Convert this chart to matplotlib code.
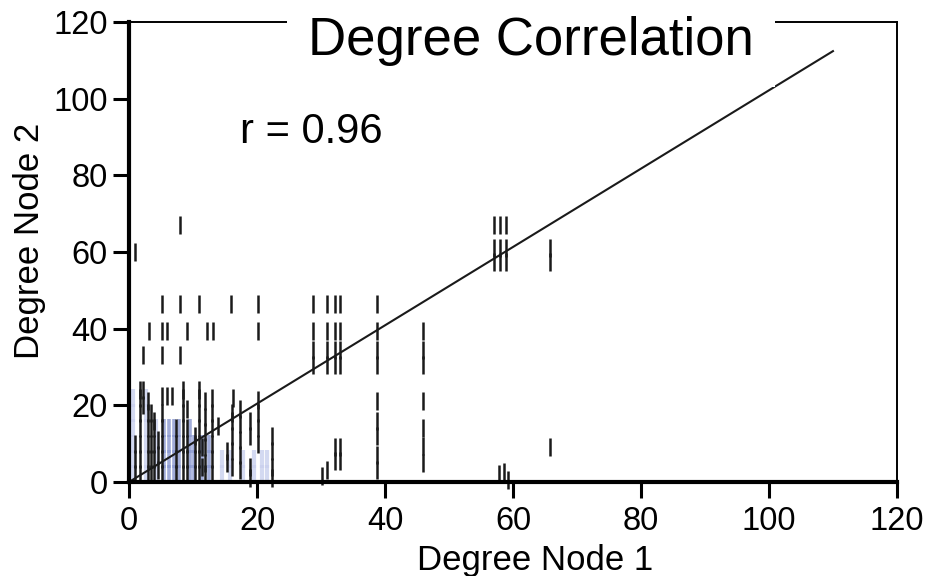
import numpy as np
import matplotlib
matplotlib.use("Agg")
import matplotlib.pyplot as plt

plt.rcParams['font.family'] = ['Liberation Sans', 'DejaVu Sans']

# degree pairs (node 1, node 2)
node1 = [8.0, 1.0,
         5.2, 8.0, 10.9, 15.9, 20.2, 28.8, 30.9, 32.2, 33.0, 38.8,
         3.1, 5.2, 5.9, 9.1, 12.2, 13.1, 20.2, 28.8, 30.9, 32.2, 33.0, 38.8, 45.9,
         2.2, 5.2, 8.0,
         28.8, 28.8, 30.9, 30.9, 32.2, 32.2, 33.0, 33.0, 38.8, 38.8, 45.9, 45.9,
         38.8, 38.8, 38.8, 38.8, 38.8,
         45.9, 45.9, 45.9, 45.9,
         32.2, 32.2, 33.0, 33.0, 30.9, 30.2,
         57.0, 57.9, 58.9, 57.0, 57.9, 58.9, 57.0, 57.9, 58.9,
         65.8, 65.8, 65.8,
         57.8, 58.6, 59.2,
         # dense block near the origin
         0.9, 0.9, 0.9,
         1.7, 1.7, 1.7, 1.7, 1.7, 1.7, 1.7,
         2.2, 2.2,
         3.0, 3.0, 3.0, 3.0, 3.0, 3.0,
         3.4, 3.4, 3.4, 3.4, 3.4,
         3.9, 3.9, 3.9, 3.9, 3.9,
         4.5, 4.5, 4.5,
         5.2, 5.2, 5.2, 5.2, 5.2, 5.2,
         5.9, 6.7,
         7.3, 7.3, 7.3, 7.3,
         8.5, 8.5, 8.5, 8.5, 8.5, 8.5, 8.5,
         9.1, 9.1, 9.1, 9.1, 9.1,
         10.3, 10.3, 10.3, 10.3,
         10.9, 10.9, 10.9, 10.9, 10.9, 10.9, 10.9,
         11.4, 11.4,
         11.9, 11.9, 11.9, 11.9, 11.9, 11.9,
         13.0, 13.0, 13.0, 13.0, 13.0, 13.0,
         13.9,
         15.3, 15.3,
         16.1, 16.1, 16.1, 16.1, 16.1,
         16.3,
         17.3, 17.3, 17.3, 17.3, 17.3,
         18.9, 18.9, 18.9, 18.9,
         20.2, 20.2, 20.2, 20.2,
         22.3, 22.3, 22.3, 22.3]
node2 = [67, 60,
         46.5, 46.5, 46.5, 46.5, 46.5, 46.5, 46.5, 46.5, 46.5, 46.5,
         39.5, 39.5, 39.5, 39.5, 39.5, 39.5, 39.5, 39.5, 39.5, 39.5, 39.5, 39.5, 39.5,
         33, 33, 33,
         34.5, 30.5, 34.5, 30.5, 34.5, 30.5, 34.5, 30.5, 34.5, 30.5, 34.5, 30.5,
         21, 16, 12, 7, 3,
         21, 14, 9.5, 5,
         9, 5.5, 9, 5.5, 3, 1.5,
         67, 67, 67, 61, 61, 61, 57.5, 57.5, 57.5,
         61, 57.5, 9,
         2, 2.5, 0.5,
         2, 6, 10,
         2, 6, 10, 14, 18, 22, 24,
         20, 24,
         2, 6, 10, 14, 18, 21,
         2, 6, 10, 14, 18,
         2, 6, 10, 14, 16,
         3, 7, 11,
         2, 6, 10, 14, 18, 22.5,
         22.5, 22.5,
         2, 6, 10, 14,
         2, 6, 10, 14, 18, 22, 24,
         2, 6, 10, 14, 19,
         2, 6, 10, 12,
         2, 6, 10, 14, 18, 22, 24,
         4, 9,
         2, 5, 9, 13, 17, 21,
         2, 6, 10, 14, 18, 22,
         14.5,
         5, 8,
         4, 8, 12, 16, 18,
         22,
         3, 7, 11, 15, 19,
         1, 4, 12, 16,
         10, 14, 18, 21.5,
         1, 4, 8, 12]

# bluish marks in the dense block (scan tint)
tint1 = [5.5, 5.5, 5.5, 5.5, 6.3, 6.3, 6.3, 6.3, 7.0, 7.0, 7.0, 7.0,
         7.8, 7.8, 7.8, 7.8, 9.6, 9.6, 9.6, 9.6, 10.2, 10.2, 10.2,
         11.4, 11.4, 11.4, 12.5, 12.5, 12.5]
tint2 = [2, 6, 10, 14, 2, 6, 10, 14, 2, 6, 10, 14,
         2, 6, 10, 14, 2, 6, 10, 14, 2, 6, 10,
         2, 6, 10, 2, 6, 10]

# paler tint around it
pale1 = [0.6, 0.6, 0.6, 0.6, 0.6, 0.6, 2.6, 2.6, 2.6, 2.6, 2.6, 2.6,
         4.2, 4.2, 4.2, 4.2, 14.5, 14.5, 15.8, 15.8, 17.8, 17.8, 19.6, 19.6,
         20.8, 20.8, 21.6, 21.6]
pale2 = [2, 6, 10, 14, 18, 22, 2, 6, 10, 14, 18, 22,
         2, 6, 10, 14, 2, 6, 2, 6, 2, 6, 2, 6,
         2, 6, 2, 6]

# regression line end points
fit_x = [0, 110]
fit_y = [0, 112.4]

fig = plt.figure(figsize=(9.29, 5.76), dpi=100)
ax = fig.add_axes([0.1389, 0.1632, 0.8266, 0.7986])

ax.plot(pale1, pale2, linestyle='none', marker='|', markersize=13,
        markeredgewidth=3.0, color='#c9d0ee', alpha=0.8, clip_on=False)
ax.plot(tint1, tint2, linestyle='none', marker='|', markersize=13,
        markeredgewidth=2.6, color='#8a98d0', alpha=0.8, clip_on=False)
ax.plot(node1, node2, linestyle='none', marker='|', markersize=13,
        markeredgewidth=1.8, color='#1a1a1a', clip_on=False)
ax.plot(fit_x, fit_y, color='#1a1a1a', linewidth=1.5, clip_on=False)

ax.set_xlim(0, 120)
ax.set_ylim(0, 120)
ax.set_xticks(np.arange(0, 121, 20))
ax.set_yticks(np.arange(0, 121, 20))

for s in ['left', 'bottom']:
    ax.spines[s].set_linewidth(3.0)
for s in ['top', 'right']:
    ax.spines[s].set_linewidth(1.4)
ax.tick_params(direction='out', length=11.5, width=2.2, labelsize=23.5)
ax.tick_params(axis='x', pad=6)
ax.tick_params(axis='y', pad=4)

ax.set_xlabel('Degree Node 1', fontsize=25)
ax.set_ylabel('Degree Node 2', fontsize=25)
ax.xaxis.set_label_coords(0.529, -0.134)
ax.yaxis.set_label_coords(-0.108, 0.525)

ax.text(62.8, 111.4, 'Degree Correlation', fontsize=38, ha='center', va='baseline',
        bbox=dict(boxstyle='square,pad=0.4', facecolor='white', edgecolor='none'),
        zorder=5)
ax.text(17.3, 88.4, 'r = 0.96', fontsize=30, ha='left', va='baseline')

fig.savefig('out.png', dpi=100)
